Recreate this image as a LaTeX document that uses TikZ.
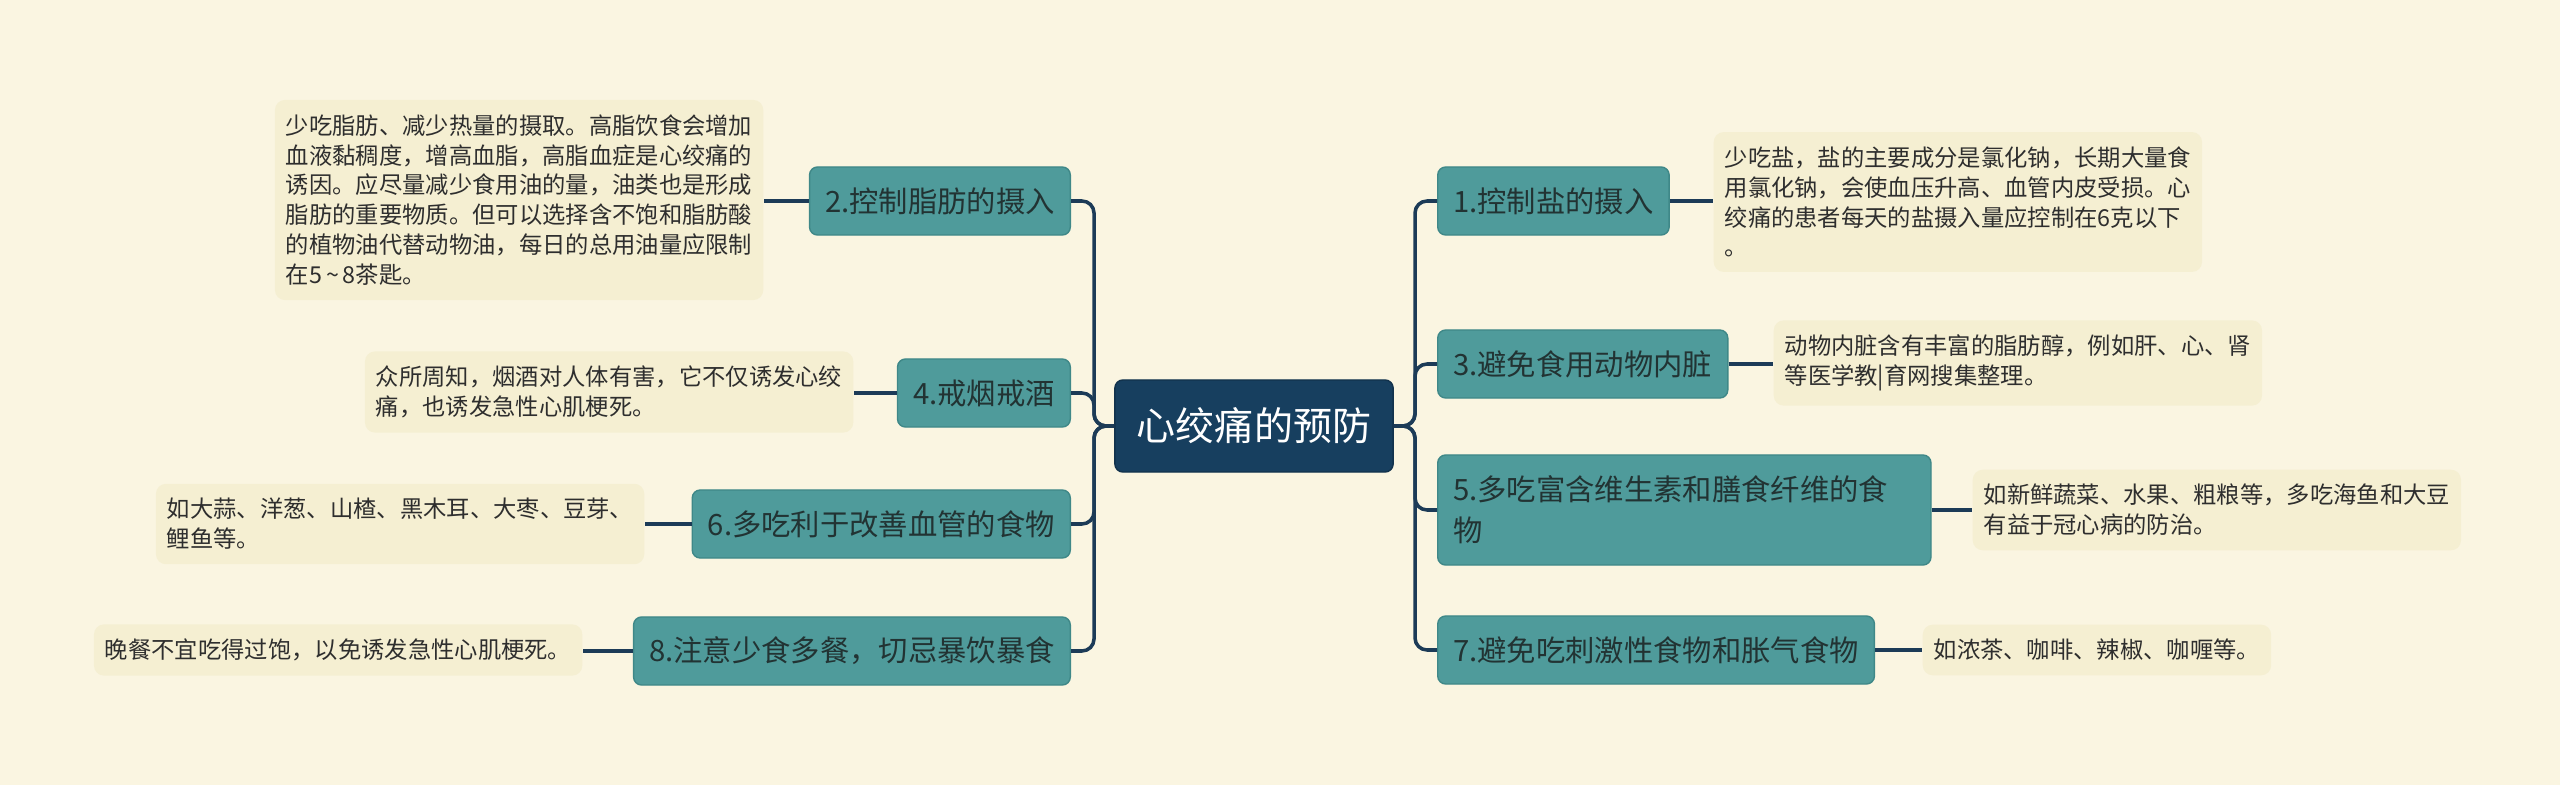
\documentclass[tikz,border=0pt]{standalone}
\usepackage{fontspec}
\setmainfont{Noto Sans CJK SC}
\definecolor{bgc}{HTML}{FAF5E1}
\definecolor{notec}{HTML}{F5EFD2}
\definecolor{notet}{HTML}{2E2E2E}
\definecolor{topicc}{HTML}{4F9B9B}
\definecolor{topicb}{HTML}{3F8888}
\definecolor{topict}{HTML}{223333}
\definecolor{rootc}{HTML}{173F5F}
\definecolor{linkc}{HTML}{1C3B57}

\begin{document}
\begin{tikzpicture}[x=0.01cm, y=-0.01cm,
        link/.style={draw=linkc, line width=1pt, rounded corners=0.12cm},
        root/.style={rectangle, rounded corners=0.08cm, draw=rootc!80!black, fill=rootc, text=white,
            font=\fontsize{11.1}{13}\selectfont, inner xsep=0.22cm, minimum height=0.92cm},
        topic/.style={rectangle, rounded corners=0.08cm, draw=topicb, fill=topicc, text=topict,
            font=\fontsize{8.34}{11.7}\selectfont, inner xsep=0.155cm, inner ysep=0cm, minimum height=0.68cm},
        note/.style={rectangle, rounded corners=0.1cm, fill=notec, text=notet, align=left,
            font=\fontsize{6.63}{8.5}\selectfont, inner xsep=0.11cm, inner ysep=0.145cm}
    ]
    \useasboundingbox (0,0) rectangle (2560,785);
    \fill[bgc] (0,0) rectangle (2560,785);

    \node[root] (c) at (1254,426) {心绞痛的预防};

    % left side
    \node[topic, anchor=east] (t2) at (1071,201) {2.控制脂肪的摄入};
    \node[topic, anchor=east] (t4) at (1071,393) {4.戒烟戒酒};
    \node[topic, anchor=east] (t6) at (1071,524) {6.多吃利于改善血管的食物};
    \node[topic, anchor=east] (t8) at (1071,651) {8.注意少食多餐，切忌暴饮暴食};

    \node[note, anchor=east] (n2) at (764,200) {少吃脂肪、减少热量的摄取。高脂饮食会增加\\
        血液黏稠度，增高血脂，高脂血症是心绞痛的\\
        诱因。应尽量减少食用油的量，油类也是形成\\
        脂肪的重要物质。但可以选择含不饱和脂肪酸\\
        的植物油代替动物油，每日的总用油量应限制\\
        在5\,\textasciitilde\,8茶匙。};
    \node[note, anchor=east] (n4) at (854,392) {众所周知，烟酒对人体有害，它不仅诱发心绞\\
        痛，也诱发急性心肌梗死。};
    \node[note, anchor=east] (n6) at (645,524) {如大蒜、洋葱、山楂、黑木耳、大枣、豆芽、\\
        鲤鱼等。};
    \node[note, anchor=east] (n8) at (583,650) {晚餐不宜吃得过饱，以免诱发急性心肌梗死。};

    % right side
    \node[topic, anchor=west] (t1) at (1437,201) {1.控制盐的摄入};
    \node[topic, anchor=west] (t3) at (1437,364) {3.避免食用动物内脏};
    \node[topic, anchor=west, text width=4.62cm, align=left, minimum height=1.1cm] (t5) at (1437,510)
        {5.多吃富含维生素和膳食纤维的食\\物};
    \node[topic, anchor=west] (t7) at (1437,650) {7.避免吃刺激性食物和胀气食物};

    \node[note, anchor=west] (n1) at (1713,202) {少吃盐，盐的主要成分是氯化钠，长期大量食\\
        用氯化钠，会使血压升高、血管内皮受损。心\\
        绞痛的患者每天的盐摄入量应控制在6克以下\\
        。};
    \node[note, anchor=west] (n3) at (1773,363) {动物内脏含有丰富的脂肪醇，例如肝、心、肾\\
        等医学教|育网搜集整理。};
    \node[note, anchor=west] (n5) at (1972,510) {如新鲜蔬菜、水果、粗粮等，多吃海鱼和大豆\\
        有益于冠心病的防治。};
    \node[note, anchor=west] (n7) at (1922,650) {如浓茶、咖啡、辣椒、咖喱等。};

    \coordinate (lj) at (1094,426);
    \coordinate (rj) at (1415,426);

    \draw[link] (c.west) -- (lj) |- (t2.east);
    \draw[link] (c.west) -- (lj) |- (t4.east);
    \draw[link] (c.west) -- (lj) |- (t6.east);
    \draw[link] (c.west) -- (lj) |- (t8.east);
    \draw[link] (c.east) -- (rj) |- (t1.west);
    \draw[link] (c.east) -- (rj) |- (t3.west);
    \draw[link] (c.east) -- (rj) |- (t5.west);
    \draw[link] (c.east) -- (rj) |- (t7.west);

    \draw[link] (t2.west) -- (t2.west -| n2.east);
    \draw[link] (t4.west) -- (t4.west -| n4.east);
    \draw[link] (t6.west) -- (t6.west -| n6.east);
    \draw[link] (t8.west) -- (t8.west -| n8.east);
    \draw[link] (t1.east) -- (t1.east -| n1.west);
    \draw[link] (t3.east) -- (t3.east -| n3.west);
    \draw[link] (t5.east) -- (t5.east -| n5.west);
    \draw[link] (t7.east) -- (t7.east -| n7.west);
\end{tikzpicture}
\end{document}
